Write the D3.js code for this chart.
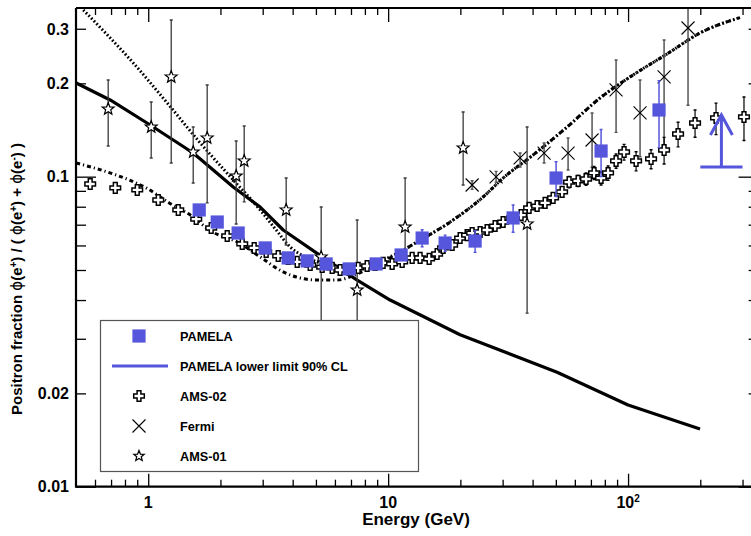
<!DOCTYPE html>
<html><head><meta charset="utf-8">
<script src="https://cdn.jsdelivr.net/npm/d3@7"></script>
<style>
html,body{margin:0;padding:0;background:#fff;}
svg{display:block;font-family:"Liberation Sans",Arial,Helvetica,sans-serif;}
</style></head>
<body><svg id="c" width="751" height="536"></svg>
<script>
// ---------- DATA ----------
// PAMELA positron fraction
const pamelaE   = [1.631,1.939,2.371,3.073,3.831,4.597,5.515,6.879,8.913,11.33,13.86,17.28,23.04,33.18,50.12,77.18,134.6];
const pamelaF   = [0.0781,0.0714,0.0658,0.0589,0.0547,0.0535,0.0523,0.0504,0.0523,0.0559,0.0634,0.0611,0.0620,0.0736,0.0990,0.1210,0.1641];
const pamelaErr = [0.0015,0.0015,0.0015,0.0012,0.0012,0.0012,0.0012,0.0012,0.0013,0.0018,0.0040,0.0037,0.0050,0.0074,0.0127,0.0210,0.0400];
// PAMELA lower limit 90% CL
const limitE = [200, 300];
const limitF = 0.1075;
// AMS-02
const ams02E = [0.573,0.729,0.900,1.101,1.334,1.585,1.830,2.134,2.465,2.765,
                3.102,3.481,3.831,4.177,4.732,5.309,5.843,6.310,6.879,7.499,
                8.175,8.829,9.532,10.39,11.44,12.59,13.59,14.82,16.00,16.95,
                18.48,19.95,21.34,22.39,24.18,25.85,27.91,30.15,32.86,35.83,
                38.69,41.77,45.11,48.70,53.09,56.78,61.90,66.83,72.16,77.18,
                82.54,89.13,96.23,108.0,124.7,141.3,161.6,190.2,232.6,304.2];
const ams02F = [0.0947,0.0920,0.0906,0.0841,0.0781,0.0730,0.0683,0.0644,0.0607,0.0589,
                0.0572,0.0555,0.0543,0.0531,0.0519,0.0511,0.0508,0.0500,0.0500,0.0508,
                0.0515,0.0519,0.0527,0.0523,0.0531,0.0547,0.0547,0.0543,0.0563,0.0589,
                0.0602,0.0634,0.0648,0.0658,0.0663,0.0673,0.0693,0.0714,0.0736,0.0752,
                0.0793,0.0804,0.0823,0.0854,0.0893,0.0961,0.0969,0.0983,0.1028,0.0990,
                0.1028,0.1124,0.1201,0.1124,0.1141,0.1219,0.1373,0.1490,0.1547,0.1558];
const ams02Err = [0.0008,0.0008,0.0008,0.0008,0.0008,0.0008,0.0008,0.0008,0.0008,0.0008,
                  0.0008,0.0008,0.0008,0.0008,0.0008,0.0008,0.0008,0.0008,0.0008,0.0008,
                  0.001,0.001,0.001,0.001,0.001,0.001,0.001,0.001,0.001,0.001,
                  0.001,0.001,0.001,0.001,0.001,0.0015,0.0015,0.0018,0.002,0.002,
                  0.0022,0.0025,0.0028,0.003,0.0035,0.004,0.004,0.0045,0.005,0.005,
                  0.0055,0.006,0.007,0.008,0.008,0.012,0.0125,0.015,0.018,0.025];
// Fermi
const fermiE  = [22.39,28.18,35.48,44.67,56.23,70.79,89.13,112.2,141.3,177.8];
const fermiF  = [0.0940,0.0998,0.1149,0.1192,0.1192,0.1313,0.1905,0.1605,0.2097,0.3017];
const fermiLo = [0.091,0.096,0.1075,0.1107,0.1051,0.1075,0.139,0.116,0.119,0.170];
const fermiHi = [0.097,0.104,0.1192,0.1284,0.1333,0.1605,0.238,0.205,0.276,0.40];
// AMS-01
const ams01E  = [0.681,1.029,1.247,1.540,1.761,2.326,2.512,3.758,5.259,7.428,11.77,20.54,37.95];
const ams01F  = [0.1653,0.1446,0.2097,0.1201,0.1333,0.1005,0.1124,0.0781,0.0551,0.0431,0.0688,0.1238,0.0704];
const ams01Lo = [0.1256,0.1149,0.1107,0.0954,0.0823,0.0704,0.0829,0.0602,0.030,0.020,0.0531,0.0940,0.0363];
const ams01Hi = [0.2051,0.1742,0.3203,0.1446,0.1976,0.1304,0.1457,0.0990,0.0798,0.0725,0.0990,0.1617,0.1446];
// Secondary production model (solid)
const secE = [0.501,0.694,1.019,1.540,2.261,2.929,3.652,5.309,7.428,10.19,19.95,50.60,100.0,199.5];
const secF = [0.2006,0.1768,0.1468,0.1192,0.0926,0.0798,0.0673,0.0551,0.0464,0.0400,0.0309,0.0234,0.01835,0.01535];
// Model curve 1 (dotted)
const dotE = [0.536,0.866,1.200,1.647,2.261,2.929,3.415,3.906,4.511,5.208,6.310,7.641,9.261,11.22,13.21,18.13,24.88,30.15,40.20,55.69,76.44,104.9,145.4,199.5,292.9];
const dotF = [0.3450,0.2327,0.1729,0.1285,0.0976,0.0781,0.0673,0.0593,0.0551,0.0527,0.0511,0.0515,0.0535,0.0572,0.0616,0.0714,0.0860,0.0990,0.1175,0.1446,0.1794,0.2128,0.2488,0.2907,0.3260];
// Model curve 2 (dash-dot)
const ddE = [0.501,0.715,0.833,0.981,1.223,1.540,1.796,2.394,2.929,3.652,4.299,5.061,6.131,7.079,8.414,10.19,13.21,18.13,24.88,30.15,40.20,55.69,76.44,104.9,145.4,199.5,292.9];
const ddF = [0.1107,0.1020,0.0976,0.0920,0.0823,0.0741,0.0673,0.0611,0.0551,0.0493,0.0471,0.0464,0.0464,0.0478,0.0508,0.0547,0.0616,0.0714,0.0860,0.0990,0.1175,0.1446,0.1794,0.2128,0.2488,0.2907,0.3260];

const yTickLabels = [[0.01,"0.01"],[0.02,"0.02"],[0.1,"0.1"],[0.2,"0.2"],[0.3,"0.3"]];
const xTickLabels = [[1,"1"],[10,"10"],[100,"10","2"]];
const legendItems = ["PAMELA","PAMELA lower limit 90% CL","AMS-02","Fermi","AMS-01"];

// ---------- LAYOUT ----------
const L = 76, R = 758.6, T = 8, B = 486.7;
const BLUE = "#5656dc";
const svg = d3.select("#c");
svg.append("rect").attr("width",751).attr("height",536).attr("fill","#fff");

const x = d3.scaleLog().domain([0.5, 350]).range([L, R]);
const y = d3.scaleLog().domain([0.01, 0.35]).range([B, T]);

svg.append("clipPath").attr("id","pc").append("rect")
  .attr("x",L).attr("y",T).attr("width",R-L).attr("height",B-T);
const plot = svg.append("g").attr("clip-path","url(#pc)");

// ---------- curves ----------
const line = d3.line().x(d=>x(d[0])).y(d=>y(d[1])).curve(d3.curveMonotoneX);
const lineLin = d3.line().x(d=>x(d[0])).y(d=>y(d[1]));
plot.append("path").datum(d3.zip(ddE,ddF)).attr("d",line)
  .attr("fill","none").attr("stroke","#000").attr("stroke-width",3)
  .attr("stroke-dasharray","4 3 1.2 3");
plot.append("path").datum(d3.zip(dotE,dotF)).attr("d",line)
  .attr("fill","none").attr("stroke","#000").attr("stroke-width",3)
  .attr("stroke-dasharray","1.7 2.1");
plot.append("path").datum(d3.zip(secE,secF)).attr("d",lineLin)
  .attr("fill","none").attr("stroke","#000").attr("stroke-width",3.2)
  .attr("stroke-linejoin","round");

// ---------- marker shapes ----------
function plusPath(r, w){
  return `M${-w},${-r}L${w},${-r}L${w},${-w}L${r},${-w}L${r},${w}L${w},${w}L${w},${r}L${-w},${r}L${-w},${w}L${-r},${w}L${-r},${-w}L${-w},${-w}Z`;
}
function starPath(R0, r0){
  let p = [];
  for(let i=0;i<10;i++){
    const a = -Math.PI/2 + i*Math.PI/5;
    const rr = i%2===0 ? R0 : r0;
    p.push([rr*Math.cos(a), rr*Math.sin(a)]);
  }
  return "M"+p.map(q=>q[0].toFixed(2)+","+q[1].toFixed(2)).join("L")+"Z";
}
function drawPlus(g, cx, cy){
  g.append("path").attr("d",plusPath(5.3,1.9)).attr("transform",`translate(${cx},${cy})`)
   .attr("fill","#fff").attr("stroke","#000").attr("stroke-width",1.5);
}
function drawStar(g, cx, cy){
  g.append("path").attr("d",starPath(6.3,2.7)).attr("transform",`translate(${cx},${cy})`)
   .attr("fill","#fff").attr("stroke","#000").attr("stroke-width",1.2);
}
function drawX(g, cx, cy){
  const s = 6.5;
  g.append("path").attr("d",`M${cx-s},${cy-s}L${cx+s},${cy+s}M${cx-s},${cy+s}L${cx+s},${cy-s}`)
   .attr("stroke","#000").attr("stroke-width",1.1).attr("fill","none");
}
function drawSquare(g, cx, cy){
  g.append("rect").attr("x",cx-6.6).attr("y",cy-6.6).attr("width",13.2).attr("height",13.2)
   .attr("fill",BLUE);
}
function errBar(g, E, lo, hi, color, w){
  const cx = x(E);
  g.append("line").attr("x1",cx).attr("x2",cx).attr("y1",y(lo)).attr("y2",y(hi))
   .attr("stroke",color).attr("stroke-width",w);
  [lo,hi].forEach(v=>g.append("line").attr("x1",cx-1.5).attr("x2",cx+1.5)
     .attr("y1",y(v)).attr("y2",y(v)).attr("stroke",color).attr("stroke-width",1.4));
}

// ---------- AMS-01 ----------
const gA1 = plot.append("g");
ams01E.forEach((e,i)=>errBar(gA1,e,ams01Lo[i],ams01Hi[i],"#3a3a3a",1.3));
ams01E.forEach((e,i)=>drawStar(gA1,x(e),y(ams01F[i])));
// ---------- Fermi ----------
const gF = plot.append("g");
fermiE.forEach((e,i)=>errBar(gF,e,fermiLo[i],fermiHi[i],"#555",1.5));
fermiE.forEach((e,i)=>drawX(gF,x(e),y(fermiF[i])));
// ---------- AMS-02 ----------
const gA2 = plot.append("g");
ams02E.forEach((e,i)=>errBar(gA2,e,ams02F[i]-ams02Err[i],ams02F[i]+ams02Err[i],"#000",1.2));
ams02E.forEach((e,i)=>drawPlus(gA2,x(e),y(ams02F[i])));
// ---------- PAMELA ----------
const gP = plot.append("g");
pamelaE.forEach((e,i)=>errBar(gP,e,pamelaF[i]-pamelaErr[i],pamelaF[i]+pamelaErr[i],BLUE,1.5));
pamelaE.forEach((e,i)=>drawSquare(gP,x(e),y(pamelaF[i])));
// lower limit arrow
{
  const x0 = x(limitE[0]), x1 = x(limitE[1]);
  const xm = x(Math.sqrt(limitE[0]*limitE[1]));
  const yb = y(limitF), yt = yb - 52;
  gP.append("path").attr("d",`M${x0},${yb}L${x1},${yb}M${xm},${yb}L${xm},${yt}M${xm-11},${yt+20}L${xm},${yt}L${xm+11},${yt+20}`)
    .attr("fill","none").attr("stroke",BLUE).attr("stroke-width",3);
}

// ---------- axes ----------
const tickStroke = g => g.selectAll("line").attr("stroke","#000").attr("stroke-width",1.3);
const xMajor = [1,10,100];
const xMinor = [0.6,0.7,0.8,0.9,2,3,4,5,6,7,8,9,20,30,40,50,60,70,80,90,200,300];
const yMajor = [0.01,0.1];
const yMinor = [0.02,0.03,0.04,0.05,0.06,0.07,0.08,0.09,0.2,0.3];
function ax(gen, pos, vals, size){
  const g = svg.append("g").attr("transform",pos)
    .call(gen.tickValues(vals).tickSize(size).tickFormat(""));
  g.select(".domain").remove();
  g.selectAll("text").remove();
  tickStroke(g);
}
ax(d3.axisTop(x), `translate(0,${B})`, xMajor, 13);
ax(d3.axisTop(x), `translate(0,${B})`, xMinor, 7);
ax(d3.axisBottom(x), `translate(0,${T})`, xMajor, 14);
ax(d3.axisBottom(x), `translate(0,${T})`, xMinor, 7);
ax(d3.axisRight(y), `translate(${L},0)`, yMajor, 20);
ax(d3.axisRight(y), `translate(${L},0)`, yMinor, 10);
ax(d3.axisLeft(y), `translate(${R},0)`, yMajor, 20);
ax(d3.axisLeft(y), `translate(${R},0)`, yMinor, 10);

// frame
svg.append("path").attr("d",`M${L},${T}L${L},${B}L${R},${B}M${L},${T}L${R},${T}L${R},${B}`)
  .attr("fill","none").attr("stroke","#000").attr("stroke-width",2.2);

// tick labels
svg.append("g").selectAll("text").data(yTickLabels).join("text")
  .attr("x",69).attr("y",d=>y(d[0])).attr("dy","0.36em")
  .attr("text-anchor","end").attr("font-size",16).attr("font-weight","bold")
  .text(d=>d[1]);
const xl = svg.append("g").selectAll("text").data(xTickLabels).join("text")
  .attr("x",d=>x(d[0])).attr("y",508).attr("text-anchor","middle")
  .attr("font-size",16).attr("font-weight","bold");
xl.append("tspan").text(d=>d[1]);
xl.filter(d=>d[2]).append("tspan").attr("font-size",10).attr("dy",-6).text(d=>d[2]);

// axis titles
svg.append("text").attr("x",416).attr("y",525).attr("text-anchor","middle")
  .attr("font-size",17).attr("font-weight","bold").text("Energy (GeV)");
{
  const t = svg.append("text").attr("transform","translate(22,279) rotate(-90)")
    .attr("text-anchor","middle").attr("font-size",15).attr("font-weight","bold");
  const parts = [
    ["Positron fraction ",null],["\u03d5","n"],["(e",null],["+","s"],[") / ( ",null],
    ["\u03d5","n"],["(e",null],["+","s"],[") + ",null],["\u03d5","n"],["(e",null],["-","s"],[") )",null]
  ];
  parts.forEach(p=>{
    const s = t.append("tspan").text(p[0]);
    if(p[1]==="n") s.attr("font-weight","normal").attr("font-family","DejaVu Sans");
    if(p[1]==="s") s.attr("font-size",10).attr("baseline-shift","super");
  });
}

// ---------- legend ----------
const lg = svg.append("g");
lg.append("rect").attr("x",100.5).attr("y",320.5).attr("width",318).attr("height",151)
  .attr("fill","#fff").attr("stroke","#555").attr("stroke-width",1.2);
const ly = [336, 366, 396, 426, 456];
drawSquare(lg,139,ly[0]);
lg.append("line").attr("x1",112).attr("x2",168).attr("y1",ly[1]).attr("y2",ly[1])
  .attr("stroke",BLUE).attr("stroke-width",3.2);
drawPlus(lg,139,ly[2]);
drawX(lg,139,ly[3]);
lg.append("path").attr("d",starPath(5.5,2.4)).attr("transform",`translate(139,${ly[4]})`)
  .attr("fill","#fff").attr("stroke","#000").attr("stroke-width",1.2);
lg.selectAll("text.l").data(legendItems).join("text").attr("class","l")
  .attr("x",180).attr("y",(d,i)=>ly[i]).attr("dy","0.36em")
  .attr("font-size",12.7).attr("font-weight","bold").text(d=>d);
</script></body></html>
